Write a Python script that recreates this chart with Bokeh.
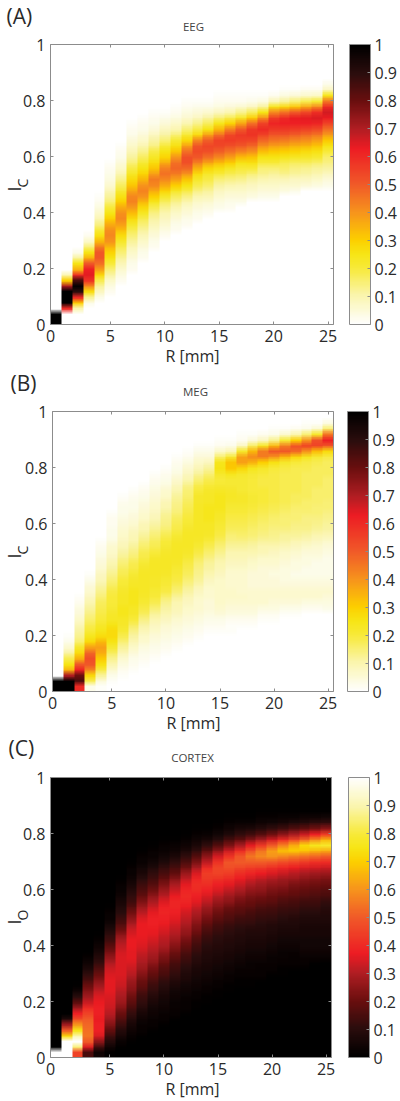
from bokeh.embed import file_html
from bokeh.resources import INLINE
from bokeh.plotting import figure
from bokeh.layouts import column
from bokeh.models import (ColorBar, FixedTicker, Label, LinearAxis, LinearColorMapper, Range1d)
import numpy as np

# Each list is one R column, read upward from I=0 in 0.02 steps (percent of colour scale).
EEG = [
 [100,100],
 [0,0,60,100,100,100,70,30,10],
 [0,0,10,30,60,90,100,85,60,35,25,12,3],
 [0,0,0,3,12,27,42,58,64,62,50,35,25,15,7,2],
 [0,0,0,0,3,8,12,18,28,38,46,50,50,44,34,26,20,14,10,7,4,2,1],
 [0]*5+[2,4,7,11,15,20,25,29,34,40,42,41,36,30,25,20,15,12,9,6,4,3,2,1],
 [0]*7+[2,4,6,9,12,15,18,22,27,33,38,42,41,36,30,26,21,17,13,10,7,5,3,2,1],
 [0]*9+[2,3,5,7,9,12,15,18,22,27,33,39,43,42,37,32,27,23,19,15,12,9,7,5,3,2,1],
 [0]*11+[2,3,5,7,9,12,15,18,23,28,34,40,43,40,34,29,25,21,17,13,10,7,5,3,2,1],
 [0]*13+[2,3,5,7,9,11,14,18,24,30,36,42,44,38,32,27,23,19,14,11,8,5,3,2,1],
 [0]*15+[2,4,6,8,10,13,17,22,29,36,42,46,43,36,29,25,20,15,11,8,5,3,1],
 [0]*16+[2,3,5,7,10,13,17,23,30,38,44,48,46,40,32,26,21,15,10,7,4,2,1],
 [0]*17+[2,3,5,7,10,14,19,25,32,40,47,52,52,46,38,28,21,15,10,6,4,2,1],
 [0]*18+[2,3,5,7,10,14,18,22,27,35,43,50,53,51,42,27,19,13,8,5,3,1],
 [0]*19+[2,4,6,9,12,16,19,22,28,37,46,52,54,49,38,25,17,11,6,3,1],
 [0]*20+[3,4,6,8,11,15,20,26,33,42,49,54,55,46,34,24,15,8,4,2,1],
 [0]*20+[2,3,5,7,10,14,18,23,30,38,46,52,56,54,43,29,18,10,5,2,1],
 [0]*21+[3,5,7,9,13,17,20,25,33,43,50,55,57,50,37,23,13,6,2,1],
 [0]*22+[4,6,8,11,15,20,26,32,41,48,54,58,57,46,30,17,8,3,1],
 [0]*22+[3,5,7,10,13,15,20,25,33,41,48,55,60,55,41,25,12,4,1],
 [0]*22+[3,5,7,9,12,15,20,25,31,38,45,51,57,61,56,42,25,9,2],
 [0]*23+[4,6,9,13,16,18,24,30,37,44,51,57,62,60,46,28,12,4,1],
 [0]*23+[3,6,8,12,14,17,23,29,35,42,49,56,62,63,50,32,15,5,1],
 [0]*24+[5,8,11,13,17,22,27,34,41,47,55,62,64,54,37,18,6,2],
 [0]*24+[4,7,10,12,16,21,26,32,38,45,53,61,65,59,42,21,7,2],
 [0]*24+[3,5,8,11,14,16,20,25,31,39,46,55,63,66,60,45,24,8,3],
]

MEG = [
 [100,100],
 [100,100,70,35,25,18,11,6,3,1],
 [60,85,80,62,50,35,27,22,16,13,11,9,7,5,4,2,1],
 [3,18,28,42,50,52,48,38,28,24,20,18,16,14,12,10,8,6,5,3,1],
 [1,5,12,19,26,31,36,38,34,27,24,22,20,19,18,17,15,13,11,9,8,6,5,4,3,2,1],
 [0,1,3,6,10,13,17,21,25,27,27,25,23,22,21,20,20,19,17,15,13,11,10,8,7,6,4,3,3,2,2,1],
 [0,0,1,2,4,6,9,12,15,18,21,22,23,24,24,23,23,22,21,20,18,17,15,13,11,9,8,7,6,5,4,3,3,2,1],
 [0,0,0,1,2,3,5,7,9,11,14,17,20,22,23,24,24,24,23,22,21,19,18,16,14,12,10,9,8,6,5,4,3,3,2,1],
 [0]*4+[1,2,3,4,6,7,9,11,14,17,19,21,22,23,23,23,23,22,21,19,18,16,14,12,10,9,7,6,5,4,3,2,1],
 [0]*5+[1,2,3,4,5,7,8,10,12,15,18,20,21,22,22,23,23,23,22,20,18,17,15,13,11,9,8,7,6,5,4,3,2,1],
 [0]*6+[1,2,3,4,5,6,8,10,11,13,16,19,20,21,22,23,23,23,22,21,20,18,16,14,13,12,10,9,7,6,4,3,2,1],
 [0]*7+[1,2,3,4,5,6,8,9,10,12,15,17,19,20,21,22,23,23,23,22,21,19,18,17,15,14,13,12,10,8,6,4,3,2,1],
 [0]*8+[1,2,3,4,5,6,7,8,9,11,13,15,17,18,19,21,22,23,23,23,22,21,20,19,18,17,16,15,13,10,8,6,4,2,1],
 [0]*9+[1,2,3,4,5,6,6,7,8,10,12,13,14,15,17,19,21,22,23,23,23,23,23,23,22,22,20,18,15,12,9,7,5,3,1],
 [0]*10+[1,2,3,4,5,5,6,6,7,8,10,11,12,14,16,18,20,22,23,23,24,24,24,23,23,22,20,18,15,12,8,5,3,1],
 [0]*10+[1,2,3,5,6,7,7,7,7,7,8,9,10,11,13,15,17,19,20,21,22,23,24,24,24,23,21,20,22,25,24,16,7,2,1],
 [0]*10+[1,1,2,4,5,6,7,7,6,6,6,7,8,9,10,12,14,15,17,18,19,20,21,22,23,22,21,21,24,31,32,21,9,3,1],
 [0]*11+[1,2,4,5,6,7,6,6,6,6,7,8,9,10,12,14,16,17,18,19,20,21,22,22,21,21,21,22,28,38,38,22,8,2,1],
 [0]*11+[1,2,4,5,6,6,6,5,5,5,6,7,8,10,11,13,15,16,17,18,19,20,21,21,20,20,20,21,24,35,42,34,17,5,1],
 [0]*12+[1,2,4,6,6,6,5,5,5,5,6,7,9,10,12,14,15,16,17,18,19,20,20,20,19,19,20,22,30,44,44,24,8,2],
 [0]*12+[1,2,4,5,6,6,5,5,4,5,6,7,8,10,12,13,14,15,16,17,18,19,19,19,19,19,19,20,26,40,50,34,13,3,1],
 [0]*13+[1,3,5,6,6,5,4,4,4,5,6,7,9,11,12,14,15,15,16,17,18,18,18,18,18,18,19,22,34,50,44,21,6,1],
 [0]*13+[1,3,5,6,6,5,4,3,4,4,5,6,8,10,12,13,14,15,15,16,17,17,18,18,18,18,18,20,28,47,52,30,10,2],
 [0]*14+[2,4,6,6,5,4,3,3,4,4,5,7,9,11,13,14,14,15,16,16,17,17,17,17,17,18,19,24,40,56,40,15,3,1],
 [0]*14+[2,4,6,6,5,4,3,3,3,4,5,6,8,10,12,13,14,15,15,16,16,16,17,17,17,17,18,21,33,55,52,22,6,1],
 [0]*14+[3,4,5,6,5,4,3,3,3,3,4,5,7,9,11,12,13,14,15,15,16,16,16,16,17,17,17,19,27,50,62,45,16,4],
]

CORTEX = [
 [100],
 [100,100,100,72,50,28,8],
 [45,85,100,90,75,60,47,38,28,18,10,4,1],
 [15,35,50,55,54,52,50,45,40,33,28,24,20,15,11,7,4,2],
 [4,14,25,35,38,38,37,38,38,37,35,32,28,24,20,16,12,9,6,4,2,1],
 [1,4,9,14,19,24,28,31,33,34,35,36,36,36,35,33,30,26,22,18,14,11,8,5,3,2,1],
 [0,1,3,6,9,13,17,20,24,27,29,31,33,34,35,35,35,35,34,32,29,25,20,16,13,10,8,6,4,3,2,1],
 [0,0,1,2,4,6,9,12,15,18,21,24,26,28,31,33,35,36,36,37,37,35,33,29,25,21,17,13,11,9,6,4,3,2,1],
 [0,0,0,1,2,3,4,6,9,11,13,16,19,21,24,27,29,31,33,35,36,37,37,37,35,31,27,23,19,16,13,10,7,5,3,2,1],
 [0]*4+[1,2,3,4,5,7,9,11,13,16,19,22,25,28,30,32,34,36,37,38,38,36,33,29,25,21,17,14,11,8,5,3,2,1],
 [0]*5+[1,2,3,4,5,6,8,10,12,15,17,20,23,26,29,31,33,35,37,38,39,38,35,31,27,23,19,15,12,8,5,3,2,1],
 [0]*6+[1,2,3,3,4,5,7,9,11,13,15,18,21,24,27,30,32,34,36,38,39,39,37,33,29,24,19,15,11,7,4,3,1],
 [0]*7+[1,2,2,3,4,5,7,8,10,12,14,16,19,22,25,27,30,32,34,37,39,40,39,36,32,27,21,16,11,7,4,2,1],
 [0]*8+[1,1,2,3,4,5,6,7,9,10,12,14,16,19,22,24,27,30,33,36,38,40,41,39,35,29,23,17,11,7,4,2,1],
 [0]*9+[1,1,2,3,4,5,6,7,8,9,10,12,14,16,19,22,25,28,32,35,38,41,43,44,40,32,25,18,11,6,3,1],
 [0]*10+[1,1,2,3,4,5,6,7,8,9,10,11,13,15,18,21,24,27,31,35,38,42,45,46,42,34,25,17,10,5,2,1],
 [0]*11+[1,1,2,3,4,5,6,7,8,9,10,11,13,16,18,21,25,28,32,36,40,44,48,49,42,33,23,15,8,4,2,1],
 [0]*12+[1,1,2,3,4,5,6,7,8,9,10,12,14,17,19,22,25,29,33,37,41,46,50,49,40,29,19,11,6,3,1],
 [0]*12+[1,1,2,3,3,4,5,6,7,8,9,11,13,15,18,20,23,26,30,34,39,44,50,55,48,36,24,14,7,3,1],
 [0]*13+[1,2,2,3,4,5,6,7,8,9,10,12,14,16,19,22,25,28,32,37,43,50,58,55,43,29,17,9,4,2,1],
 [0]*14+[1,2,3,3,4,5,6,7,8,9,11,13,15,18,20,23,26,30,35,41,49,60,62,50,34,21,11,5,2,1],
 [0]*14+[1,1,2,3,3,4,5,6,7,8,10,12,14,16,19,22,25,28,33,39,47,58,68,57,40,25,13,6,3,1],
 [0]*15+[1,2,2,3,4,5,6,7,8,9,11,13,15,18,20,23,27,31,37,45,56,70,64,46,29,16,8,3,1],
 [0]*15+[1,2,3,4,5,5,6,6,7,8,10,12,14,17,19,22,25,29,35,43,54,68,72,52,33,18,9,4,1],
 [0]*16+[1,3,4,5,5,6,6,7,8,10,12,14,16,18,21,24,28,34,41,52,66,76,59,38,21,11,4,1],
 [0]*17+[3,4,5,5,6,6,7,8,9,10,12,15,17,20,23,27,33,40,50,64,78,66,44,24,12,5,1],
]

X_TICKS = [-0.5, 5, 10, 15, 20, 25]
X_TICK_LABELS = {-0.5: "0"}
Y_TICKS = [0, 0.2, 0.4, 0.6, 0.8, 1]
CBAR_TICKS = [0, 0.1, 0.2, 0.3, 0.4, 0.5, 0.6, 0.7, 0.8, 0.9, 1]

ROWS = 50
FONT = "Open Sans"
TEXT = "#2a2a2a"
EDGE = "#8c8c8c"
WIDTH = 400

# Colour stops of the white-to-black map.
STOP_AT = [0, 0.1, 0.2, 0.25, 0.3, 0.4, 0.5, 0.63, 0.7, 0.8, 0.9, 1]
STOP_COLOR = ["#ffffff", "#fbf6b0", "#f8ea3a", "#f7e616", "#fdd000", "#f7941d", "#f15a29",
              "#ed1c24", "#b01e23", "#6a0f0f", "#2a0d0d", "#000000"]


def build_palette(n=256):
    t = np.linspace(0, 1, n)
    rgb = [[int(c[i:i + 2], 16) for c in STOP_COLOR] for i in (1, 3, 5)]
    chans = [np.interp(t, STOP_AT, ch) for ch in rgb]
    return ["#%02x%02x%02x" % (int(r), int(g), int(b)) for r, g, b in zip(*chans)]


def panel(cols, palette, title, letter, ysub, frame, fig_top, fig_bottom, cbar_x, letter_xy, title_xy, xlabel_xy):
    left, top, w, h = frame
    H = fig_bottom - fig_top
    sx = 26 / w
    sy = 1 / h
    x_range = Range1d(-0.5 - left * sx, 25.5 + (WIDTH - left - w) * sx)
    y_range = Range1d(-(fig_bottom - (top + h)) * sy, 1 + (top - fig_top) * sy)
    p = figure(output_backend="svg", toolbar_location=None, x_range=x_range, y_range=y_range,
               width=WIDTH, height=H, min_border=0, background_fill_color=None, border_fill_color=None)
    p.grid.visible = False
    p.xaxis.visible = False
    p.yaxis.visible = False
    p.outline_line_color = None

    mapper = LinearColorMapper(palette=palette, low=0, high=1)
    grid = np.zeros((ROWS, len(cols)))
    for i, col in enumerate(cols):
        grid[:len(col), i] = np.array(col) / 100.0
    # Half-visible copies shifted by a fraction of a row soften the steps between rows.
    row = 1 / ROWS
    p.image(image=[grid], x=-0.5, y=0, dw=26, dh=1, color_mapper=mapper)
    p.image(image=[grid[:-1]], x=-0.5, y=row / 3, dw=26, dh=1 - row, color_mapper=mapper, global_alpha=1 / 2)
    p.image(image=[grid[:-1]], x=-0.5, y=2 * row / 3, dw=26, dh=1 - row, color_mapper=mapper, global_alpha=1 / 3)
    p.quad(left=[-0.5], right=[25.5], bottom=[0], top=[1], fill_color=None, line_color=EDGE, line_width=1)

    def style(ax, ticks, labels, loc, bounds):
        ax.ticker = FixedTicker(ticks=ticks)
        ax.fixed_location = loc
        ax.bounds = bounds
        ax.axis_line_color = None
        ax.major_tick_line_color = EDGE
        ax.major_tick_in = 3
        ax.major_tick_out = 0
        ax.minor_tick_line_color = None
        if labels:
            ax.major_label_text_font = FONT
            ax.major_label_text_font_size = "16px"
            ax.major_label_text_color = TEXT
        else:
            ax.major_label_overrides = {t: "" for t in ticks}

    xb = (-0.5, 25.5)
    yb = (0, 1)
    bottom = LinearAxis(major_label_overrides=dict(X_TICK_LABELS))
    style(bottom, X_TICKS, True, 0, xb)
    bottom.major_label_standoff = 5
    p.add_layout(bottom, "below")
    leftax = LinearAxis()
    style(leftax, Y_TICKS, True, -0.5, yb)
    leftax.major_label_standoff = 5
    p.add_layout(leftax, "left")
    above = LinearAxis()
    style(above, X_TICKS, False, 1, xb)
    p.add_layout(above, "above")
    right = LinearAxis()
    style(right, Y_TICKS, False, 25.5, yb)
    p.add_layout(right, "right")

    cb = ColorBar(color_mapper=mapper, location=(cbar_x, fig_bottom - (top + h)), width=21, height=h,
                  padding=0, margin=0, ticker=FixedTicker(ticks=CBAR_TICKS),
                  major_label_text_font=FONT, major_label_text_font_size="16px",
                  major_label_text_color=TEXT, label_standoff=4,
                  major_tick_line_color=EDGE, major_tick_in=3, bar_line_color=EDGE,
                  background_fill_color=None, border_line_color=None)
    p.add_layout(cb, "center")

    def txt(s, px, py, size, align="left", angle=0.0, color=TEXT):
        # Label's "alphabetic" anchor sits a little above the baseline; compensate along the text's normal.
        shift = 0.35 * size
        if angle:
            px -= shift
        else:
            py -= shift
        p.add_layout(Label(x=px, y=fig_bottom - py, x_units="screen", y_units="screen",
                           text=s, text_font=FONT, text_font_size=f"{size}px", text_color=color,
                           text_align=align, text_baseline="alphabetic", angle=angle))

    txt(letter, letter_xy[0], letter_xy[1], 21)
    txt(title, title_xy[0], title_xy[1], 11.5, align="center", color="#444444")
    txt("R [mm]", xlabel_xy[0], xlabel_xy[1], 16, align="center")
    ymid = top + 147
    txt("I", 19.5, ymid, 18, angle=np.pi / 2)
    txt(ysub, 27, ymid - 4, 14, angle=np.pi / 2)
    return p


REV = build_palette()
a = panel(EEG, REV, "EEG", "(A)", "C", (50, 44, 283, 280), 0, 366, 349, (6, 23), (193, 30), (192, 361))
b = panel(MEG, REV, "MEG", "(B)", "C", (52, 411, 281, 280), 366, 734, 347, (10, 390), (195, 395), (193, 728))
c = panel(CORTEX, REV[::-1], "CORTEX", "(C)", "O", (50, 777, 281, 280), 734, 1100, 348, (8, 755), (192, 761), (192, 1094))

page = column(a, b, c, spacing=0)
open("out.html", "w").write(file_html(page, INLINE))
